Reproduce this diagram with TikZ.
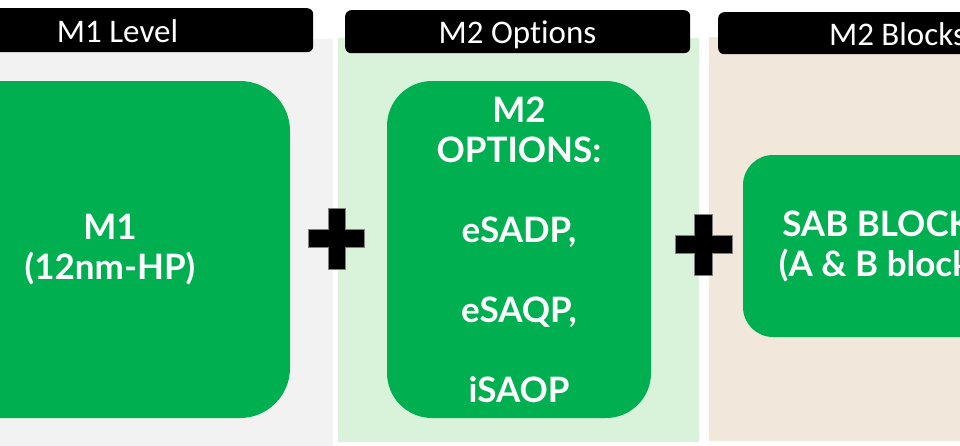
\documentclass[tikz,border=0pt]{standalone}
\usepackage{fontspec}
\setmainfont{Carlito}[Ligatures=NoCommon]
\newfontfamily\bfnt{Lato}
\definecolor{mygreen}{HTML}{00B050}
\definecolor{greyp}{HTML}{F2F2F2}
\definecolor{lgreenp}{HTML}{D9F2DA}
\definecolor{beigep}{HTML}{F1E7DB}
\definecolor{plusedge}{HTML}{808080}
\begin{document}
\begin{tikzpicture}[x=1pt,y=-1pt,
  panel/.style={draw=none, inner sep=0pt, anchor=north west},
  hdrbox/.style={fill=black, rounded corners=6pt, inner sep=0pt, anchor=north west},
  hdrtext/.style={text=white, inner sep=0pt, anchor=base, font=\fontsize{33}{40}\selectfont},
  gbox/.style={fill=mygreen, text=white, align=center, inner sep=0pt,
    font=\bfnt\bfseries\fontsize{35}{40}\selectfont},
  plussign/.style={fill=black, draw=plusedge, line width=0.8pt}]
\useasboundingbox (0,0) rectangle (960,445);
\clip (0,0) rectangle (960,445);
% panels
\node[panel, fill=greyp, minimum width=343pt, minimum height=420pt] (p1) at (-10,39) {};
\node[panel, fill=lgreenp, minimum width=361pt, minimum height=404pt] (p2) at (338,38) {};
\node[panel, fill=beigep, minimum width=260pt, minimum height=404pt] (p3) at (709,37) {};
% headers
\node[hdrbox, minimum width=393pt, minimum height=44pt] (h1) at (-80,8) {};
\node[hdrbox, minimum width=345pt, minimum height=43pt] (h2) at (345,10) {};
\node[hdrbox, minimum width=359pt, minimum height=42pt] (h3) at (718,12) {};
\node[hdrtext] (t1) at (117.5,42) {M1 Level};
\node[hdrtext] (t2) at (517.5,43) {M2 Options};
\node[hdrtext] (t3) at (897.5,45) {M2 Blocks};
% green boxes
\node[gbox, rounded corners=50pt, minimum width=360pt, minimum height=337pt] (m1) at (110,249.5)
  {M1\\(12nm-HP)};
\node[gbox, rounded corners=45pt, minimum width=264pt, minimum height=337pt] (m2) at (519,249.5)
  {M2\\OPTIONS:\\[40pt]eSADP,\\[40pt]eSAQP,\\[40pt]iSAOP};
\node[gbox, rounded corners=30pt, minimum width=288pt, minimum height=182pt] (sab) at (887,246)
  {SAB BLOCKS\\(A \& B blocks)};
% plus signs
\draw[plussign] (308,229) -| (328,208) -| (345,229) -| (364,247) -| (345,269) -| (328,247) -| (308,229) -- cycle;
\draw[plussign] (675,235) -| (694,214) -| (712,235) -| (732,253) -| (712,275) -| (694,253) -| (675,235) -- cycle;
\end{tikzpicture}
\end{document}
